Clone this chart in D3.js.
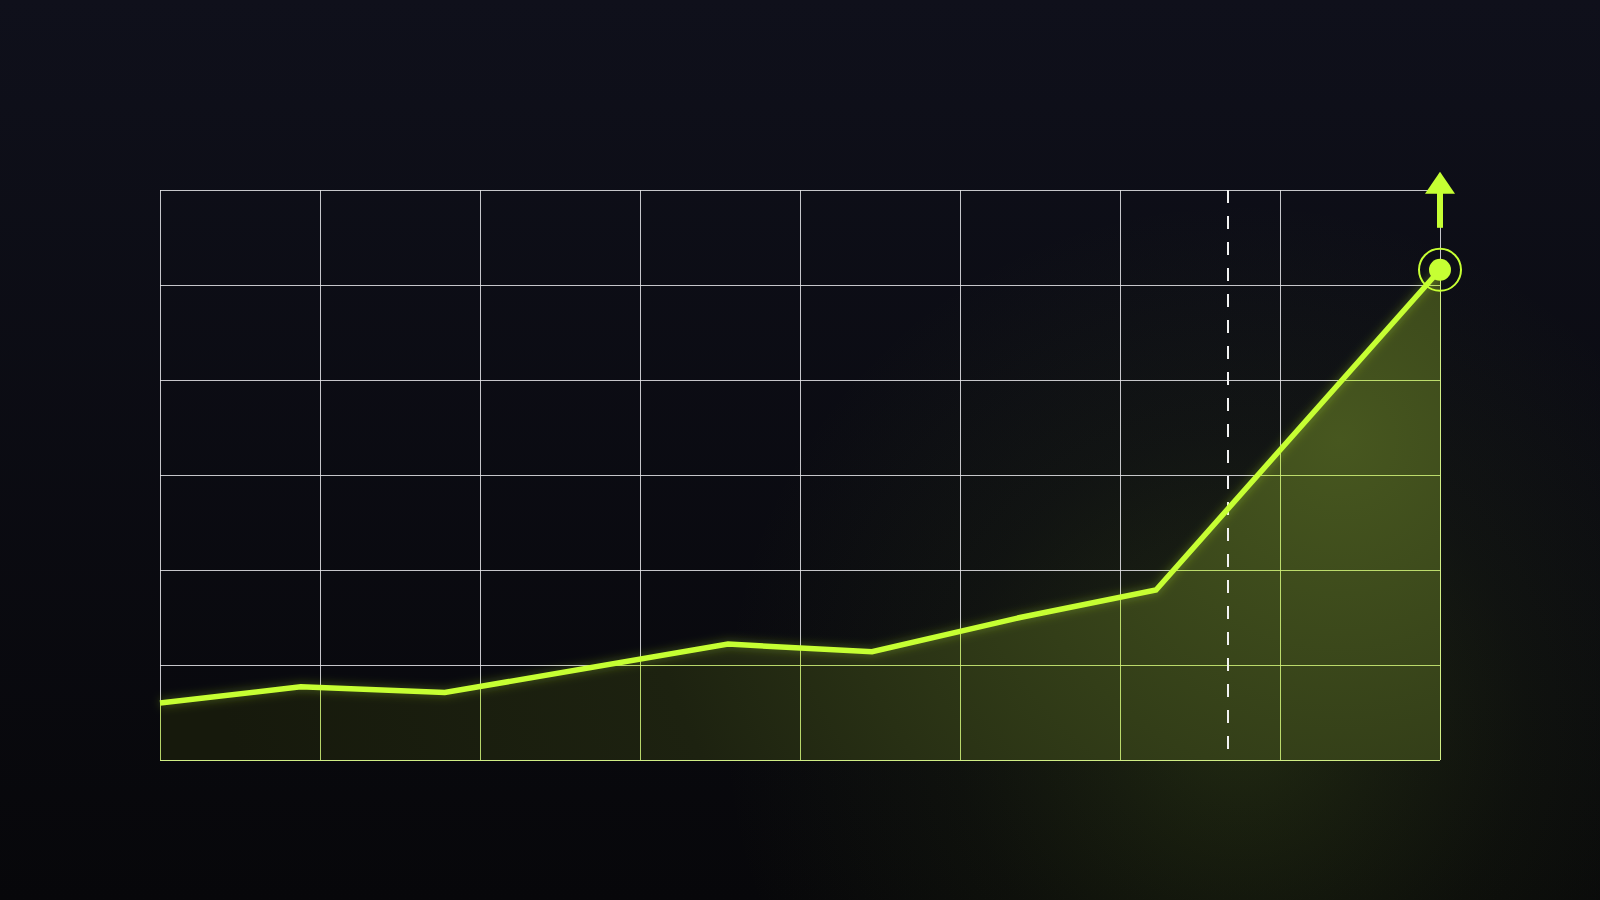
<!DOCTYPE html>
<html>
<head>
<meta charset="utf-8">
<script src="https://cdn.jsdelivr.net/npm/d3@7"></script>
<style>
  html, body { margin: 0; padding: 0; background: #0b0c12; }
  svg { display: block; }
</style>
</head>
<body>
<script>
// values (x in grid columns, y in grid rows)
const xs = [0, 0.88, 1.78, 3.55, 4.45, 5.375, 6.225, 8]
const ys = [0.6, 0.77, 0.71, 1.22, 1.14, 1.5, 1.79, 5.16]
const xTicks = [0, 1, 2, 3, 4, 5, 6, 7, 8]
const yTicks = [0, 1, 2, 3, 4, 5, 6]
const markerX = 6.675

const width = 1600, height = 900
const margin = {top: 190, right: 160, bottom: 140, left: 160}
const lime = '#c6ff33'

const data = xs.map((x, i) => ({x: x, y: ys[i]}))

const x = d3.scaleLinear().domain([0, 8]).range([margin.left, width - margin.right])
const y = d3.scaleLinear().domain([0, 6]).range([height - margin.bottom, margin.top])

const svg = d3.select('body').append('svg')
  .attr('width', width)
  .attr('height', height)

const defs = svg.append('defs')

// background gradient
const bg = defs.append('linearGradient').attr('id', 'bg')
  .attr('x1', 0).attr('y1', 0).attr('x2', 0).attr('y2', 1)
bg.append('stop').attr('offset', 0).attr('stop-color', '#0f101b')
bg.append('stop').attr('offset', 1).attr('stop-color', '#07070a')

// green haze in the lower right
const haze = defs.append('radialGradient').attr('id', 'haze')
  .attr('gradientUnits', 'userSpaceOnUse')
  .attr('cx', 1240).attr('cy', 720).attr('r', 520)
haze.append('stop').attr('offset', 0).attr('stop-color', '#9ccc2a').attr('stop-opacity', 0.17)
haze.append('stop').attr('offset', 0.55).attr('stop-color', '#7aa020').attr('stop-opacity', 0.06)
haze.append('stop').attr('offset', 1).attr('stop-color', '#7aa020').attr('stop-opacity', 0)

// area fill
const fill = defs.append('radialGradient').attr('id', 'fill')
  .attr('gradientUnits', 'userSpaceOnUse')
  .attr('cx', 1340).attr('cy', 440).attr('r', 1150)
fill.append('stop').attr('offset', 0).attr('stop-color', '#47571f')
fill.append('stop').attr('offset', 0.3).attr('stop-color', '#333e18')
fill.append('stop').attr('offset', 0.62).attr('stop-color', '#1d2210')
fill.append('stop').attr('offset', 1).attr('stop-color', '#16190c')

const glow = defs.append('filter').attr('id', 'glow')
  .attr('x', '-20%').attr('y', '-20%').attr('width', '140%').attr('height', '140%')
glow.append('feGaussianBlur').attr('stdDeviation', 4)

const area = d3.area()
  .x(d => x(d.x))
  .y0(y(0))
  .y1(d => y(d.y))

const line = d3.line()
  .x(d => x(d.x))
  .y(d => y(d.y))

// clip a little wider than the area so the border lines keep their full width
const clipArea = d3.area()
  .x((d, i) => x(d.x) + (i == 0 ? -2 : i == data.length - 1 ? 2 : 0))
  .y0(y(0) + 2)
  .y1(d => y(d.y))

defs.append('clipPath').attr('id', 'under')
  .append('path').attr('d', clipArea(data))

svg.append('rect').attr('width', width).attr('height', height).attr('fill', 'url(#bg)')
svg.append('rect').attr('width', width).attr('height', height).attr('fill', 'url(#haze)')

function drawGrid(g, color, opacity) {
  g.selectAll('.v').data(xTicks).join('line')
    .attr('x1', d => x(d)).attr('x2', d => x(d))
    .attr('y1', y(0)).attr('y2', y(6))
  g.selectAll('.h').data(yTicks).join('line')
    .attr('x1', x(0)).attr('x2', x(8))
    .attr('y1', d => y(d)).attr('y2', d => y(d))
  g.selectAll('line')
    .attr('stroke', color)
    .attr('stroke-opacity', opacity)
    .attr('stroke-width', 1)
    .attr('shape-rendering', 'crispEdges')
}

// white grid on the dark part
svg.append('g').call(drawGrid, '#e6e6ea', 0.85)

// area under the line
svg.append('path')
  .datum(data)
  .attr('d', area)
  .attr('fill', 'url(#fill)')

// lime grid where the area covers it
svg.append('g')
  .attr('clip-path', 'url(#under)')
  .call(drawGrid, '#d2f57a', 0.85)

// dashed marker
svg.append('line')
  .attr('x1', x(markerX)).attr('x2', x(markerX))
  .attr('y1', y(6)).attr('y2', y(0) - 10)
  .attr('stroke', '#f2f2f2')
  .attr('stroke-width', 2)
  .attr('stroke-dasharray', '13 13')

// line with a faint glow
svg.append('path')
  .datum(data)
  .attr('d', line)
  .attr('fill', 'none')
  .attr('stroke', lime)
  .attr('stroke-opacity', 0.22)
  .attr('stroke-width', 9)
  .attr('filter', 'url(#glow)')

svg.append('path')
  .datum(data)
  .attr('d', line)
  .attr('fill', 'none')
  .attr('stroke', lime)
  .attr('stroke-width', 5.5)
  .attr('stroke-linejoin', 'miter')

// end point marker
const last = data[data.length - 1]
const ex = x(last.x), ey = y(last.y)

svg.append('circle')
  .attr('cx', ex).attr('cy', ey).attr('r', 11)
  .attr('fill', lime)
svg.append('circle')
  .attr('cx', ex).attr('cy', ey).attr('r', 21)
  .attr('fill', 'none')
  .attr('stroke', lime)
  .attr('stroke-width', 2)

// upward arrow
svg.append('rect')
  .attr('x', ex - 3).attr('y', ey - 78)
  .attr('width', 6).attr('height', 36)
  .attr('fill', lime)
svg.append('path')
  .attr('d', `M${ex},${ey - 98}L${ex + 15},${ey - 76}L${ex - 15},${ey - 76}Z`)
  .attr('fill', lime)
</script>
</body>
</html>
